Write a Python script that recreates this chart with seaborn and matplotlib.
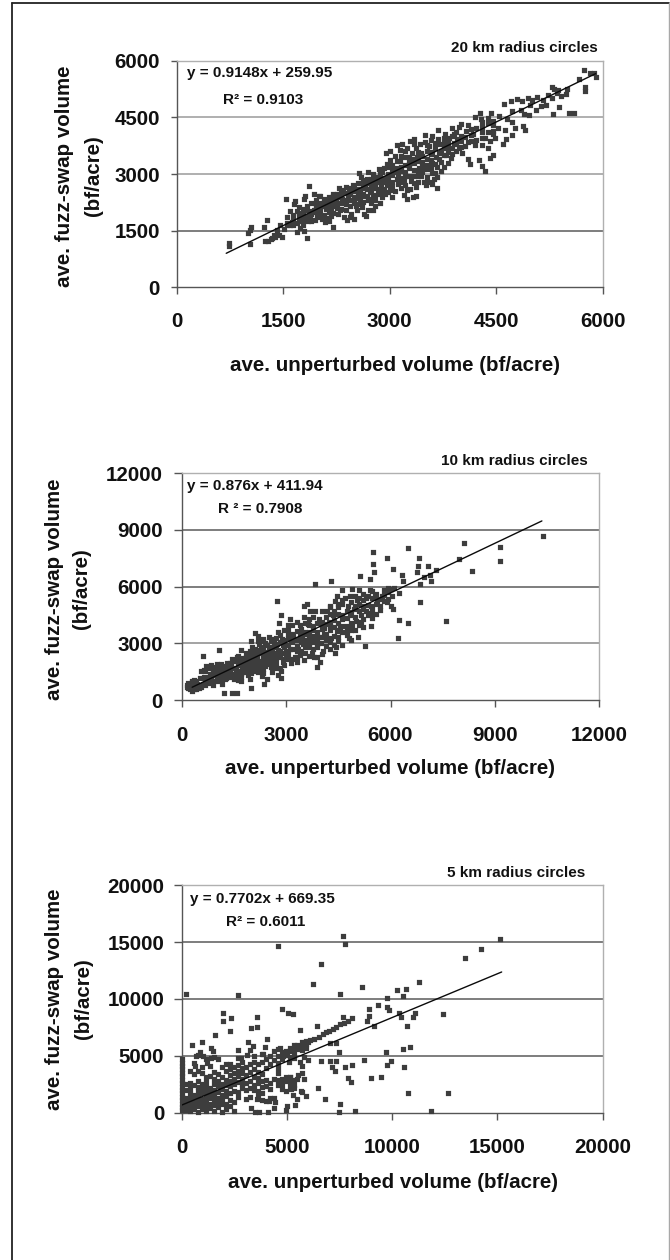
import matplotlib
matplotlib.use("Agg")
import matplotlib.pyplot as plt
import seaborn as sns
import pandas as pd
from matplotlib.lines import Line2D

pts20 = [(740,1100),(740,1165),(1030,1145),(1010,1440),(1040,1520),(1050,1590),(1230,1600),(1270,1780),(1250,1230),(1290,1225),(1340,1300),(1390,1340),(1450,1385),(1480,1340),(1410,1520),(1460,1650),(1540,2330),(1650,2210),(1670,2290),(1600,2030),(1690,2030),(1835,1300),(1790,1500),(1690,1470),(1620,1740),(1870,2680),(1810,2420),(1790,2330),(1930,2470),(2000,2420),(2200,1605),
(1330,1270),(1370,1390),(1510,1540),(1560,1700),(1600,1640),(1640,1780),(1700,1700),(1740,1560),(1780,1640),(1760,1780),(1800,1850),(1720,1880),(1780,1980),(1820,2050),(1850,1760),(1880,1850),(1900,1950),(1930,2050),(1950,1780),(1980,1880),(2010,1990),(2020,2130),(1960,2180),(2050,1800),(2090,1720),(2120,1830),(2150,1760),(2180,1900),(2060,2220),(2100,2080),(2130,2270),(2170,2020),(2200,2430),(2220,2150),(2240,2290),(2280,1950),(2300,2060),(2330,2350),(2360,1850),(2400,1780),(2440,1850),(2460,1950),(2500,1820),(2540,2040),(2380,2200),(2420,2400),(2460,2560),(2500,2300),(2530,2150),(2560,2480),(2580,2280),(2610,2120),(2640,1940),(2670,1880),(2700,2050),(2740,2240),(2770,2050),(2800,2150),(2760,2400),(2720,2520),(2690,2320),(2650,2640),(2620,2420),(2590,2600),(2550,2750),(2480,2700),(2430,2630),(2340,2520),(2290,2620),(2260,2480),(2800,2320),(2830,2540),(2870,2230),(2900,2380),(2940,2460),(2880,2680),(2850,2780),(2800,2860),(2740,2750),(2680,2870),(2640,2780),(2600,2920),(2570,3020),(2690,3050),(2760,3010),(2850,3130),(2920,2900),(2970,2700),(3010,2580),(3040,2400),(2980,2780),(3040,2980),(3080,2560),(3120,2740),(3160,2630),(3200,2450),(3250,2350),(3240,2580),(3290,2600),(3330,2400),(3370,2430),(3370,2650),(3300,2820),(3200,2840),(3120,2990),(3090,3170),(2960,3270),(3030,3110),(2900,3040),(3160,3180),(3220,3050),(3280,3150),(3350,2960),(3400,2780),(3440,2950),(3480,2800),(3510,2700),(3550,2800),(3600,2740),(3630,2860),(3670,2620),(3670,2930),(3590,3030),(3490,3120),(3420,3170),(3350,3290),(3270,3340),(3220,3450),(3150,3350),(3080,3480),(3010,3370),(2950,3560),(3010,3620),(3140,3630),(3100,3770),(3180,3800),(3250,3700),(3310,3560),(3380,3460),(3450,3330),(3530,3250),(3600,3280),(3670,3190),(3730,3080),(3730,3330),(3660,3460),(3600,3590),(3520,3620),(3440,3560),(3370,3690),(3290,3880),(3350,3930),(3430,3800),(3500,3860),(3560,3740),(3640,3830),(3720,3620),(3800,3510),(3860,3420),(3820,3700),(3760,3830),(3680,3930),(3600,4000),(3500,4040),(3680,4160),(3780,4060),(3840,3950),(3910,3820),(3980,3690),(4020,3560),(4100,3400),(4130,3270),(4260,3380),(4300,3200),(4350,3070),(4420,3420),(4460,3500),(4380,3700),(4300,3780),(4200,3770),(4110,3850),(4000,4000),(3950,3930),(3900,4060),(3970,4240),(3880,4230),(4070,4150),(4170,4060),(4100,4290),(4300,4100),(4350,3960),(4420,3880),(4490,3950),(4590,3800),(4640,3930),(4720,4030),(4620,4160),(4520,4220),(4450,4290),(4380,4350),(4290,4450),(4270,4620),(4200,4500),(4430,4610),(4540,4540),(4650,4460),(4720,4370),(4770,4230),(4880,4280),(4900,4170),(4960,4560),(4850,4700),(4720,4680),(4610,4850),(4710,4920),(4800,4980),(4870,4930),(4950,5020),(5010,4970),(5080,5030),(4980,4830),(4890,4600),(5060,4700),(5130,4800),(5200,4830),(5300,4600),(5230,5100),(5350,5150),(5290,5000),(5160,4960),(5410,5060),(5530,4620),(5590,4620),(5500,5260),(5370,5230),(5490,5110),(5390,4780),(5660,5520),(5750,5300),(5750,5200),(5730,5750),(5880,5670),(5820,5680),(5900,5560),(5320,5240),(5280,5310)]
# denser core of the 20 km cloud, column by column (x: y values)
col20 = {1560:[1660,1850],1640:[1640,1920],1720:[1760,1960,2120],1780:[1820,2080],1840:[1780,1900,2150],1900:[1750,2010,2240],1960:[1990,2100,2300],2020:[1860,2060,2240,2420],2080:[1920,2150,2330],2140:[2000,2120,2390],2200:[1980,2200,2340,2480],2260:[2100,2240,2400],2320:[2080,2240,2450,2570],2380:[2060,2320,2500,2650],2440:[2150,2300,2480],2500:[2240,2400,2560,2680],2560:[2200,2370,2600],2620:[2250,2480,2700,2830],2680:[2430,2600,2760],2740:[2350,2520,2650,2860],2800:[2440,2620,2760,2930],2860:[2460,2600,2860,3010],2920:[2600,2780,3150],2980:[2520,2880,3000,3180],3040:[2680,2800,3240],3100:[2880,3060,3340],3160:[2780,2900,3090,3480],3220:[2700,2950,3250,3600],3280:[2950,3260,3460],3340:[2760,3110,3400,3800],3400:[2950,3080,3350,3590],3460:[3050,3240,3480],3520:[2930,3120,3400,3760],3580:[3150,3370,3520,3900],3640:[3030,3260,3680],3700:[3400,3560,3800],3760:[3180,3490,3680,3950],3820:[3300,3580,3830],3880:[3530,3680,4000],3940:[3600,3800,4100],4000:[3720,3870,4330],4060:[3750,3980],4140:[3880,4040,4200],4220:[3900,4220],4300:[3950,4250,4380],4380:[4120,4480],4460:[4060,4400,4150]}

pts10 = [(10375,8660),(9160,8100),(9160,7360),(8115,8325),(8335,6830),(7970,7445),(6515,8060),(6810,7515),(5490,7830),(5490,7215),(5890,7515),(6080,6950),(5520,6760),(6780,7090),(7080,7090),(7300,6860),(7135,6635),(7155,6280),(6860,6160),(6965,6510),(6755,6760),(6320,6600),(6370,6300),(6850,5190),(7605,4170),(6255,4220),(6515,4100),(6215,3270),(5260,2870),(5080,3340),(5165,4135),(5430,3905),(5700,4785),(5125,6550),(5410,6420),(3840,6160),(4280,6300),(4600,5840),(2750,5230),(1215,350),(1440,350),(1580,350),(1990,630),(2365,845),(2845,1160),(3900,1760),(3975,2000),(620,2320),(1080,2640),
(160,700),(160,820),(230,560),(300,480),(350,600),(280,900),(400,760),(450,850),(360,1080),(500,640),(560,700),(620,860),(700,950),(750,1120),(560,1550),(650,1580),(800,1400),(700,1820),(830,1860),(950,1750),(1000,1880),(1100,1700),(950,1300),(1050,1000),(1150,870),(1230,1100),(1300,1300),(1150,1500),(1280,1620),(1380,1450),(1420,1780),(1300,1950),(1440,2180),(1600,2300),(1680,2050),(1550,1650),(1500,1250),(1620,1060),(1690,980),(1700,1400),(1800,1550),(1750,1820),(1850,2070),(1900,1300),(1950,1120),(2000,1450),(2050,1700),(2120,1900),(2000,2200),(1960,2600),(2030,2820),(1980,3100),(2100,3570),(2200,3400),(2180,3100),(2100,2500),(2150,2200),(2200,1950),(2260,1650),(2300,1250),(2350,1450),(2400,1800),(2300,2050),(2420,2250),(2350,2550),(2280,2780),(2400,3000),(2500,3350),(2600,3240),(2650,3000),(2600,2650),(2500,2400),(2520,2100),(2620,1800),(2700,1700),(2780,1300),(2850,1530),(2900,2000),(2800,2300),(2780,2640),(2900,2900),(2880,3250),(2950,3700),(2780,3600),(2800,4050),(2850,4500),(3050,3950),(3100,4300),(3200,3500),(3300,3150),(3100,2700),(3000,2400),(3050,2150),(3150,1950),(3250,2250),(3350,2700),(3400,2400),(3500,2100),(3480,2950),(3450,3300),(3550,3600),(3400,3950),(3500,4400),(3620,4000),(3600,5100),(3680,4700),(3820,4700),(3780,3900),(3700,3350),(3650,2800),(3750,2500),(3800,2250),(3900,2800),(4000,3000),(4050,2600),(3950,3350),(4100,3500),(4000,4000),(4100,3800),(3950,4300),(4220,4150),(4180,4700),(4350,4500),(4270,3900),(4300,3300),(4250,2700),(4400,2500),(4430,2800),(4500,3100),(4450,3650),(4550,3800),(4600,4300),(4500,4900),(4620,5100),(4800,3300),(4750,3700),(4900,3900),(5000,4200),(4850,4500),(4950,4800),(4780,5000),(4700,5400),(5050,5300),(5200,5000),(5150,4500),(5300,4700),(5450,4600),(5300,5400),(5100,5800),(5200,5600),(5450,5000),(5550,5500),(5600,5250),(5750,5500),(5900,5200),(6050,5500),(5800,5800),(6000,5900),(6100,5950),(6250,5650),(6000,5000),(6080,4800),(5400,5800),(5100,5400),(4850,5500),(4900,5900),(1700,2650),(1600,2100),(2500,2800),(3000,2600),(3300,2000),(3400,3500),(3800,3400),(2200,2650),(2350,3100),(2650,2250),(2600,1500),(1200,1750),(1700,1200),(2450,1100),(2200,1500),(1850,1850),(4150,3150),(3600,3150),(4250,5000),(4400,5250),(4450,5500),(3500,4950),(3550,3000),(3150,3150),(3050,3500),(2750,2950),(2000,2400),(1550,1400),(1000,1150),(850,1050),(900,800),(640,1200)]
col10 = {180:[640,920],300:[720,1000],420:[600,980],540:[820,1180],660:[780,1080,1560],780:[900,1220,1700],900:[980,1440,1620],1020:[1090,1320,1540],1140:[1080,1250,1720,1900],1260:[1180,1380,1800],1380:[1200,1580,1980],1500:[1120,1400,1700,2050],1620:[1320,1520,1840,2340],1740:[1500,1680,1980,2240],1860:[1480,1640,2250,2500],1980:[1620,1850,2040,2420],2100:[1560,1780,2050,2340,2700],2220:[1720,2080,2500,2950],2340:[1650,1900,2200,2380,2750,3250],2460:[1900,2120,2550,2920],2580:[1750,2000,2400,2780,3100],2700:[1950,2200,2480,2800,3300],2820:[1680,2400,2620,3050,3450],2940:[1850,2150,2500,2780,3150],3060:[2250,2550,2900,3300,3700],3180:[2150,2700,3050,3350,3950],3300:[2300,2600,2850,3250,3650,4150],3420:[2600,3050,3300,3750],3540:[2500,2800,3150,3480,4100],3660:[2350,3000,3250,3600,3950,4300],3780:[2700,3050,3350,3700,4400],3900:[2250,2950,3200,3600,4050],4020:[2450,3350,3750,4150,4700],4140:[2850,3250,3500,4000,4400],4260:[3050,3700,4050,4550,4900],4380:[2900,3400,3850,4250,4700],4500:[3350,3700,4100,4550,5100],4620:[2900,3600,3900,4500,5300],4740:[3450,3900,4350,4700],4860:[3200,3700,4100,4650,5200],4980:[3700,4400,4950,5500],5100:[3950,4700,5100],5220:[3850,4300,4800,5300],5340:[4500,5050,5500],5460:[4350,4800,5400,5750],5580:[4550,5100,5600],5700:[5000,5350],5820:[5250,5550],5940:[5350,5700,5950]}

pts5 = [(15140,15300),(14220,14390),(13480,13620),(7650,15530),(7780,14830),(4560,14620),(6605,13070),(6255,11340),(205,10430),(2680,10310),(7525,10400),(8570,11020),(10250,10780),(10660,10870),(11260,11460),(10520,10255),(9740,10050),(9740,9320),(9345,9490),(8890,9080),(8920,8530),(8820,8090),(9125,7650),(9850,9025),(10300,8730),(10400,8380),(10980,8440),(11090,8730),(12430,8670),(10710,7620),(10830,5800),(10530,5570),(9690,5330),(9930,4570),(9740,4190),(10580,3980),(9470,3160),(9000,3050),(8660,4630),(10770,1700),(12640,1700),(11820,120),(8250,120),(7480,90),(7525,790),(6810,1170),(6495,2170),(8030,2720),(7920,3020),(8080,4190),(7760,3980),(7285,3630),(7130,3980),(6605,4540),(7050,4540),(7335,4540),(7480,5360),(7335,6150),(7050,6090),(8080,8290),(7680,8440),(5620,7270),(6415,7620),(5275,8670),(5070,8790),(4770,9080),(3600,8440),(3600,7500),(3280,7410),(2300,7150),(1980,8730),(1980,8090),(2360,8290),(1570,6830),(960,6240),(475,5950),
(850,5300),(1000,5000),(1200,4350),(1400,4800),(1550,4900),(1400,5650),(1500,5400),(2680,5500),(2800,4800),(3100,5100),(3150,6200),(3380,5900),(3850,5200),(3950,5800),(4050,6500),(4800,5000),(4650,5700),(4900,5300),(5000,5100),(5100,5400),(5200,5500),(5400,5650),(5500,5950),(5350,4800),(5100,4500),(5700,3450),(5800,3000),(5700,4150),(5600,4500),(5800,4900),(5700,5500),(5850,5900),(6100,6400),(6300,6500),(6500,6700),(6700,6900),(6850,7100),(7000,7200),(7200,7400),(7350,7500),(7500,7800),(7700,7900),(7900,8100),(6000,6200),(5900,5700),(5500,1200),(5900,1500),(5650,1900),(4100,100),(3300,450),(3650,100),(4950,250),(5000,600),(5400,700),(4450,900),(4150,1000),(6000,4600),(5500,3000),(5150,3100),(5200,2100),(5350,2400),(5300,1600),(3500,100),(3600,1200),(650,4100),(700,5000)]
col5 = {0:[200,500,800,1100,1400,1700,2000,2300,2600,2900,3200,3500,3800,4100,4400,4700],190:[250,650,1000,1300,2000,2500],380:[150,500,900,1300,1700,2200,2600,3650],570:[350,800,1100,1550,2450,3400,4350],760:[100,600,1050,1450,1900,2300,2800,3700,5050],950:[350,800,1200,1700,2100,2500,3500,4050],1140:[150,600,1000,1400,1850,2300,2700,3100,4700],1330:[400,800,1300,1700,2200,3200,4100],1520:[150,650,1100,1550,2000,2500,3000,3600],1710:[500,900,1300,1800,2350,2800,3400,4700],1900:[100,750,1100,1600,2100,2500,3150,4000],2090:[350,800,1450,1950,2450,2900,3650,4300],2280:[600,1150,1750,2350,2800,3300,3850,4300],2470:[150,950,1900,2500,2950,3500,4000],2660:[1400,1800,2700,3200,3700,4200,4800],2850:[2200,2500,3000,3500,3950,4500],3040:[1200,2000,2600,3350,4000],3230:[1350,2200,2800,3600,4300,5500],3420:[2000,2400,3100,3800,4500,5000],3610:[1500,1900,2650,3050,3600,4250],3800:[1100,1700,2300,2750,3400,4500,5200],3990:[1000,2350,2900,3950,4750],4180:[1250,2100,2600,4300,5000],4370:[400,1300,3000,4600,5400],4560:[2400,2900,3500,3950,4350,5000,5600],4750:[2100,2550,3000,4700,5300],4940:[1900,2800,3100,5100,5450],5130:[2350,2750,3150,4900,5700],5320:[2200,2900,5250,5950],5510:[3350,5600],5700:[1800,5750,6200],5890:[6050,6300]}

slope20, inter20 = 0.9148, 259.95
slope10, inter10 = 0.876, 411.94
slope5, inter5 = 0.7702, 669.35
fit20_x = [700, 5900]
fit10_x = [300, 10350]
fit5_x = [0, 15200]
ticks20 = [0, 1500, 3000, 4500, 6000]
ticks10 = [0, 3000, 6000, 9000, 12000]
ticks5 = [0, 5000, 10000, 15000, 20000]
titles = ["20 km radius circles", "10 km radius circles", "5 km radius circles"]
eqs = ["y = 0.9148x + 259.95", "y = 0.876x + 411.94", "y = 0.7702x + 669.35"]
r2s = ["R² = 0.9103", "R ² = 0.7908", "R² = 0.6011"]
XLAB = "ave. unperturbed volume (bf/acre)"
YLAB1, YLAB2 = "ave. fuzz-swap volume", "(bf/acre)"

sns.set_theme(style="white", rc={"font.weight": "bold"})
plt.rcParams["font.family"] = ["Liberation Sans", "DejaVu Sans"]
W, H = 670, 1260
fig = plt.figure(figsize=(W/100, H/100), dpi=100, facecolor="white")
fx = lambda v: v/W
fy = lambda v: 1-v/H
fig.add_artist(Line2D([fx(11.5), fx(11.5)], [fy(3), fy(1260)], color="#222222", lw=1.3))
fig.add_artist(Line2D([fx(11.5), fx(669)], [fy(3), fy(3)], color="#222222", lw=1.3))
fig.add_artist(Line2D([fx(669), fx(669)], [fy(3), fy(1260)], color="#a8a8a8", lw=1.0))
DARK = "#3d3d3d"

panels = [
 dict(pts=pts20, col=col20, s=slope20, i=inter20, fx=fit20_x, t=ticks20, box=(176.5, 60.7, 602.7, 287.3), title=(598, 48), eq=(187, 73), r2=(223, 100), xl=(395, 365), yl=(65, 93.5, 176), yt=4.0, ypad=8.0, xpad=13.0, grid=["#9a9a9a","#9a9a9a","#5a5a5a"]),
 dict(pts=pts10, col=col10, s=slope10, i=inter10, fx=fit10_x, t=ticks10, box=(181.7, 473.3, 599.3, 700), title=(588, 461), eq=(187, 486), r2=(218, 509), xl=(390, 768), yl=(55, 81, 589), yt=6.0, ypad=7.5, xpad=14.0, grid=["#5a5a5a","#5a5a5a","#8a8a8a"]),
 dict(pts=pts5, col=col5, s=slope5, i=inter5, fx=fit5_x, t=ticks5, box=(181.7, 885.3, 602.7, 1112.7), title=(585, 873), eq=(190, 899), r2=(226, 922), xl=(392.5, 1183), yl=(55, 83, 999), yt=6.0, ypad=6.5, xpad=13.0, grid=["#5a5a5a","#5a5a5a","#5a5a5a"]),
]
for k, p in enumerate(panels):
    l, t, r, b = p["box"]
    ax = fig.add_axes([l/W, 1-b/H, (r-l)/W, (b-t)/H])
    rows = list(p["pts"]) + [(x, y) for x, ys in p["col"].items() for y in ys]
    df = pd.DataFrame(rows, columns=["x", "y"])
    sns.scatterplot(data=df, x="x", y="y", marker="s", s=14, color=DARK, linewidth=0, ax=ax, clip_on=False, zorder=3)
    ax.collections[-1].set_snap(False)
    line = pd.DataFrame({"x": p["fx"], "y": [p["s"]*v + p["i"] for v in p["fx"]]})
    sns.lineplot(data=line, x="x", y="y", color="#0a0a0a", lw=1.0, ax=ax, zorder=4, errorbar=None)
    ax.set_xlim(p["t"][0], p["t"][-1]); ax.set_ylim(p["t"][0], p["t"][-1])
    ax.set_xticks(p["t"]); ax.set_yticks(p["t"])
    ax.set_xlabel(""); ax.set_ylabel("")
    ax.grid(False)
    for v, c in zip(p["t"][1:-1][::-1], p["grid"]):
        ax.axhline(v, color=c, lw=1.1, zorder=1)
    for sp in ("top", "right"):
        ax.spines[sp].set_color("#b0b0b0"); ax.spines[sp].set_linewidth(1.0)
    for sp in ("left", "bottom"):
        ax.spines[sp].set_color("#555555"); ax.spines[sp].set_linewidth(1.0)
    ax.tick_params(axis="x", length=5, width=1, color="#555555", labelsize=14.8, labelcolor="#111111", pad=p["xpad"], bottom=True)
    ax.tick_params(axis="y", length=p["yt"], width=1, color="#555555", labelsize=14.8, labelcolor="#111111", pad=p["ypad"], left=True)
    for lab in ax.get_xticklabels() + ax.get_yticklabels():
        lab.set_fontweight("bold")
    ft = lambda x, y, s, **kw: fig.text(x/W, 1-y/H, s, color="#111111", fontweight="bold", **kw)
    ft(*p["title"], titles[k], ha="right", va="center", fontsize=11)
    ft(*p["eq"], eqs[k], ha="left", va="center", fontsize=11)
    ft(*p["r2"], r2s[k], ha="left", va="center", fontsize=11)
    ft(*p["xl"], XLAB, ha="center", va="center", fontsize=14.8)
    x1, x2, yc = p["yl"]
    ft(x1, yc, YLAB1, ha="center", va="center", rotation=90, fontsize=14.8)
    ft(x2, yc, YLAB2, ha="center", va="center", rotation=90, fontsize=14.8)
fig.savefig("out.png", dpi=100, facecolor="white")
